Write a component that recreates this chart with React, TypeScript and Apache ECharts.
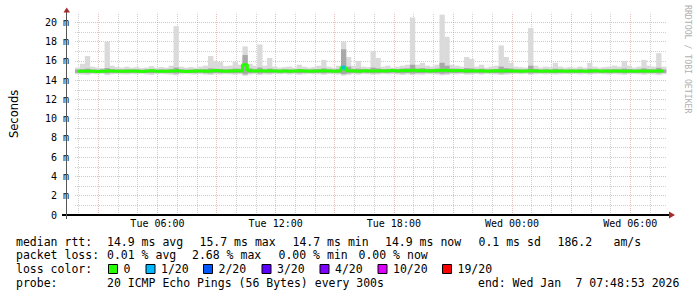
import React, { useEffect, useRef } from 'react';
import * as echarts from 'echarts';

// ---- time frame (hours since Tue 00:00) ----
const startHour = 1 + 48 / 60 + 53 / 3600; // Tue 01:48:53
const spanHours = 30;
const binHours = 0.25;

// ---- series values (ms), one per 15-minute bin ----
const medianMs = [
  14.92, 14.93, 14.95, 14.92, 14.90, 14.93, 14.96, 14.94, 14.91, 14.93,
  14.92, 14.95, 14.93, 14.90, 14.94, 14.97, 14.92, 14.91, 14.93, 14.95,
  14.98, 14.93, 14.90, 14.92, 14.95, 14.94, 14.92, 14.96, 14.99, 14.95,
  14.93, 14.95, 14.97, 14.96, 15.60, 14.98, 14.95, 14.98, 14.94, 14.97,
  14.95, 14.93, 14.96, 14.92, 14.94, 14.97, 14.95, 14.93, 14.96, 14.94,
  14.97, 14.95, 14.93, 14.96, 15.30, 14.98, 14.95, 14.93, 14.97, 14.95,
  14.96, 14.98, 14.95, 14.97, 14.99, 14.96, 15.00, 14.98, 15.02, 14.97,
  14.99, 14.96, 14.98, 15.00, 15.03, 14.99, 14.97, 15.00, 14.98, 14.96,
  14.98, 14.95, 14.97, 14.93, 14.96, 14.98, 14.95, 14.97, 14.94, 14.96,
  14.93, 14.95, 14.97, 14.94, 14.92, 14.95, 14.93, 14.96, 14.94, 14.92,
  14.95, 14.93, 14.96, 14.92, 14.94, 14.97, 14.93, 14.95, 14.92, 14.94,
  14.96, 14.93, 14.95, 14.92, 14.94, 14.96, 14.93, 14.95, 14.94, 14.92,
];
const smokeMaxMs = [
  15.30, 15.70, 16.50, 15.40, 15.30, 15.25, 18.00, 15.50, 15.35, 15.30,
  15.40, 15.30, 15.35, 15.25, 15.30, 15.45, 15.30, 15.35, 15.30, 15.50,
  19.60, 15.40, 15.30, 15.35, 15.30, 15.40, 15.50, 16.50, 16.00, 15.90,
  15.45, 15.50, 15.90, 15.60, 17.50, 15.70, 15.50, 17.70, 15.50, 16.30,
  15.40, 15.30, 15.35, 15.40, 15.30, 15.60, 15.40, 15.30, 15.35, 15.50,
  16.10, 15.40, 15.30, 15.50, 18.00, 16.40, 15.50, 16.00, 15.40, 15.35,
  17.00, 16.30, 15.40, 15.50, 15.30, 15.40, 15.50, 15.60, 20.50, 15.60,
  15.80, 15.50, 15.40, 15.60, 20.80, 18.50, 15.60, 15.50, 15.40, 16.40,
  16.20, 15.40, 15.60, 15.30, 15.40, 15.50, 17.60, 16.40, 15.80, 15.40,
  15.35, 15.30, 19.40, 15.50, 15.30, 15.40, 15.35, 15.80, 15.40, 15.30,
  15.35, 15.30, 15.40, 15.30, 15.80, 15.40, 15.30, 15.35, 15.40, 15.50,
  15.40, 16.00, 15.50, 15.30, 15.40, 16.10, 15.50, 15.40, 16.80, 15.40,
];
const smokeMinMs = [
  14.62, 14.58, 14.55, 14.63, 14.60, 14.66, 14.52, 14.60, 14.64, 14.61,
  14.58, 14.63, 14.60, 14.66, 14.59, 14.55, 14.62, 14.64, 14.60, 14.57,
  14.50, 14.61, 14.64, 14.60, 14.58, 14.62, 14.57, 14.54, 14.60, 14.58,
  14.62, 14.59, 14.56, 14.60, 14.45, 14.58, 14.62, 14.52, 14.60, 14.57,
  14.63, 14.60, 14.64, 14.58, 14.62, 14.56, 14.60, 14.64, 14.59, 14.61,
  14.56, 14.62, 14.60, 14.58, 14.48, 14.55, 14.61, 14.57, 14.63, 14.60,
  14.56, 14.58, 14.63, 14.60, 14.62, 14.58, 14.55, 14.60, 14.52, 14.58,
  14.57, 14.62, 14.60, 14.58, 14.50, 14.54, 14.61, 14.59, 14.63, 14.57,
  14.58, 14.62, 14.57, 14.63, 14.60, 14.58, 14.53, 14.57, 14.60, 14.63,
  14.61, 14.64, 14.55, 14.60, 14.63, 14.59, 14.62, 14.58, 14.61, 14.64,
  14.60, 14.63, 14.59, 14.62, 14.57, 14.61, 14.64, 14.60, 14.58, 14.62,
  14.59, 14.56, 14.61, 14.63, 14.60, 14.57, 14.62, 14.59, 14.55, 14.61,
];
const innerHiMs = [
  15.10, 15.14, 15.20, 15.10, 15.08, 15.12, 15.25, 15.14, 15.10, 15.09,
  15.12, 15.09, 15.11, 15.08, 15.10, 15.15, 15.09, 15.11, 15.10, 15.14,
  15.30, 15.12, 15.09, 15.10, 15.13, 15.11, 15.14, 15.22, 15.18, 15.16,
  15.12, 15.15, 15.20, 15.18, 16.60, 15.22, 15.14, 15.30, 15.12, 15.20,
  15.11, 15.09, 15.12, 15.10, 15.09, 15.16, 15.12, 15.10, 15.13, 15.15,
  15.22, 15.13, 15.10, 15.15, 17.20, 15.40, 15.16, 15.20, 15.14, 15.12,
  15.30, 15.22, 15.14, 15.16, 15.18, 15.15, 15.20, 15.22, 15.60, 15.20,
  15.24, 15.18, 15.16, 15.20, 15.80, 15.50, 15.20, 15.18, 15.15, 15.25,
  15.22, 15.14, 15.18, 15.10, 15.13, 15.15, 15.40, 15.25, 15.20, 15.12,
  15.11, 15.10, 15.50, 15.15, 15.09, 15.12, 15.10, 15.18, 15.12, 15.09,
  15.11, 15.09, 15.13, 15.08, 15.18, 15.12, 15.09, 15.11, 15.13, 15.15,
  15.12, 15.20, 15.14, 15.09, 15.12, 15.22, 15.14, 15.12, 15.28, 15.10,
];
const innerLoMs = [
  14.76, 14.74, 14.72, 14.77, 14.75, 14.78, 14.70, 14.75, 14.77, 14.76,
  14.74, 14.77, 14.75, 14.79, 14.74, 14.72, 14.76, 14.78, 14.75, 14.73,
  14.68, 14.76, 14.78, 14.75, 14.73, 14.77, 14.72, 14.70, 14.75, 14.73,
  14.77, 14.74, 14.72, 14.75, 14.60, 14.73, 14.77, 14.69, 14.75, 14.72,
  14.78, 14.75, 14.79, 14.73, 14.77, 14.71, 14.75, 14.78, 14.74, 14.76,
  14.71, 14.77, 14.75, 14.73, 14.62, 14.70, 14.76, 14.72, 14.78, 14.75,
  14.71, 14.73, 14.78, 14.75, 14.77, 14.73, 14.70, 14.75, 14.68, 14.73,
  14.72, 14.77, 14.75, 14.73, 14.66, 14.70, 14.76, 14.74, 14.78, 14.72,
  14.73, 14.77, 14.72, 14.78, 14.75, 14.73, 14.69, 14.72, 14.75, 14.78,
  14.76, 14.79, 14.70, 14.75, 14.78, 14.74, 14.77, 14.73, 14.76, 14.79,
  14.75, 14.78, 14.74, 14.77, 14.72, 14.76, 14.79, 14.75, 14.73, 14.77,
  14.74, 14.71, 14.76, 14.78, 14.75, 14.72, 14.77, 14.74, 14.70, 14.76,
];
const lossBins = [54];
const lossCounts = [1];

// ---- axes ----
const xTickHours = [6, 12, 18, 24, 30];
const xTickLabels = ['Tue 06:00', 'Tue 12:00', 'Tue 18:00', 'Wed 00:00', 'Wed 06:00'];
const yMax = 21;

// ---- legend texts ----
const rttLabel = 'median rtt:';
const rttStats = ['14.9 ms avg', '15.7 ms max', '14.7 ms min', '14.9 ms now', '0.1 ms sd', '186.2', 'am/s'];
const lossLabel = 'packet loss:';
const lossStats = ['0.01 % avg', '2.68 % max', '0.00 % min', '0.00 % now'];
const lossColorLabel = 'loss color:';
const lossLevels = ['0', '1/20', '2/20', '3/20', '4/20', '10/20', '19/20'];
const lossColors = ['#26ff00', '#00b8ff', '#0059ff', '#5e00ff', '#7e00ff', '#dd00ff', '#ff0000'];
const probeLabel = 'probe:';
const probeText = '20 ICMP Echo Pings (56 Bytes) every 300s';
const endText = ['end: Wed Jan', '7 07:48:53 2026'];
const watermark = 'RRDTOOL / TOBI OETIKER';

// ---- layout (pixels) ----
const rttX = [107, 199.5, 292.5, 385, 478.5, 557.5, 613.5];
const lossX = [107, 192, 278.5, 358.5];
const boxX = [108.5, 146, 203.5, 262, 320, 378, 442.5];
const rowY = [241.5, 255, 269, 282.8];
const endX = [478, 575.5];

const MONO = '"DejaVu Sans Mono", monospace';
const LEG_FONT = `11.5px ${MONO}`;

function txt(x: number, y: number, text: string) {
  return {
    type: 'text', x, y, silent: true,
    style: { text, font: LEG_FONT, fill: '#000', verticalAlign: 'middle', textVerticalAlign: 'middle', align: 'left', textAlign: 'left' },
  };
}

function bandSeries(lo: number[], hi: number[], color: string, z: number) {
  return {
    type: 'custom', z, silent: true, animation: false,
    data: lo.map((v, i) => [startHour + i * binHours, startHour + (i + 1) * binHours, v, hi[i]]),
    encode: { x: [0, 1], y: [2, 3] },
    renderItem: (_p: any, api: any) => {
      const a = api.coord([api.value(0), api.value(3)]);
      const b = api.coord([api.value(1), api.value(2)]);
      return {
        type: 'rect',
        shape: { x: a[0], y: a[1], width: b[0] - a[0] + 0.4, height: b[1] - a[1] },
        style: { fill: color },
      };
    },
  };
}

export default function App() {
  const ref = useRef<HTMLDivElement>(null);
  useEffect(() => {
    if (!ref.current) return;
    const chart = echarts.init(ref.current, undefined, { renderer: 'svg' });
    const tAt = (i: number) => startHour + (i + 0.5) * binHours;

    const major = { color: 'rgba(200,100,100,0.42)', width: 1, type: [1, 1] };
    const minor = { color: 'rgba(150,150,150,0.45)', width: 1, type: [1, 1] };
    const gridLines: any[] = [];
    for (let h = Math.ceil(startHour); h < startHour + spanHours; h++) {
      gridLines.push({ xAxis: h, lineStyle: h % 3 === 0 ? major : minor });
    }
    for (let v = 1; v < yMax; v++) {
      gridLines.push({ yAxis: v, lineStyle: v % 2 === 0 ? major : minor });
    }

    const graphics: any[] = [];
    graphics.push(txt(16, rowY[0], rttLabel));
    rttStats.forEach((s, k) => graphics.push(txt(rttX[k], rowY[0], s)));
    graphics.push(txt(16, rowY[1], lossLabel));
    lossStats.forEach((s, k) => graphics.push(txt(lossX[k], rowY[1], s)));
    graphics.push(txt(16, rowY[2], lossColorLabel));
    lossLevels.forEach((s, k) => {
      graphics.push({
        type: 'rect', silent: true,
        shape: { x: boxX[k], y: rowY[2] - 4.5, width: 9, height: 9 },
        style: { fill: lossColors[k], stroke: '#000', lineWidth: 1 },
      });
      graphics.push(txt(boxX[k] + 15, rowY[2], s));
    });
    graphics.push(txt(16, rowY[3], probeLabel));
    graphics.push(txt(107, rowY[3], probeText));
    endText.forEach((s, k) => graphics.push(txt(endX[k], rowY[3], s)));
    graphics.push({
      type: 'text', x: 688, y: 5, rotation: -Math.PI / 2, silent: true,
      style: { text: watermark, font: `8.2px ${MONO}`, fill: '#b0b0b0', align: 'left', textAlign: 'left', verticalAlign: 'middle', textVerticalAlign: 'middle' },
    });
    // axis lines with arrows
    graphics.push({ type: 'line', silent: true, z: 10, shape: { x1: 62, y1: 215, x2: 670, y2: 215 }, style: { stroke: '#000', lineWidth: 2 } });
    graphics.push({ type: 'line', silent: true, z: 10, shape: { x1: 66.5, y1: 219, x2: 66.5, y2: 11 }, style: { stroke: '#555', lineWidth: 1 } });
    graphics.push({ type: 'polygon', silent: true, z: 10, shape: { points: [[63.5, 12.5], [70, 12.5], [66.7, 7.5]] }, style: { fill: '#a52a2a' } });
    graphics.push({ type: 'polygon', silent: true, z: 10, shape: { points: [[669, 211.5], [669, 218.5], [675, 215]] }, style: { fill: '#a52a2a' } });

    chart.setOption({
      animation: false,
      backgroundColor: '#fff',
      textStyle: { fontFamily: MONO },
      grid: { left: 66, top: 12.7, width: 600, height: 202.3, containLabel: false },
      xAxis: {
        type: 'value', min: startHour, max: startHour + spanHours,
        splitLine: { show: false },
        axisLine: { show: false },
        axisTick: { show: false },
        axisLabel: {
          customValues: xTickHours,
          margin: 3.5,
          fontFamily: MONO, fontSize: 10, color: '#000',
          formatter: (v: number) => {
            const k = xTickHours.findIndex((h) => Math.abs(h - v) < 1e-6);
            return k >= 0 ? xTickLabels[k] : '';
          },
        },
      },
      yAxis: {
        type: 'value', min: 0, max: yMax, interval: 2,
        name: 'Seconds', nameLocation: 'middle', nameGap: 55,
        nameTextStyle: { fontFamily: '"DejaVu Sans", sans-serif', fontSize: 11.5, color: '#000' },
        splitLine: { show: false },
        axisLine: { show: false },
        axisTick: { show: false },
        axisLabel: {
          margin: 6, fontFamily: MONO, fontSize: 10, color: '#000', showMaxLabel: false,
          formatter: (v: number) => (v > 20 ? '' : v === 0 ? '0\u00a0\u00a0' : `${v} m`),
        },
      },
      graphic: graphics,
      series: [
        {
          type: 'line', data: [], silent: true, z: 1,
          markLine: { silent: true, symbol: ['none', 'none'], label: { show: false }, z: 1, animation: false, data: gridLines },
        },
        bandSeries(smokeMinMs, smokeMaxMs, '#dadada', 2),
        bandSeries(innerLoMs, innerHiMs, '#a8a8a8', 3),
        {
          type: 'line', symbol: 'none', step: 'middle', silent: true, z: 4,
          data: medianMs.map((v, i) => [tAt(i), v]), lineStyle: { color: '#26ff00', width: 3 },
        },
        {
          type: 'scatter', z: 5, silent: true, symbol: 'rect', symbolSize: [4, 4],
          data: lossBins.map((b, k) => [tAt(b), medianMs[b], lossCounts[k]]),
          itemStyle: { color: lossColors[1] },
        },
      ],
    });
    return () => chart.dispose();
  }, []);
  return <div ref={ref} style={{ position: 'fixed', left: 0, top: 0, width: 697, height: 297, background: '#fff' }} />;
}
